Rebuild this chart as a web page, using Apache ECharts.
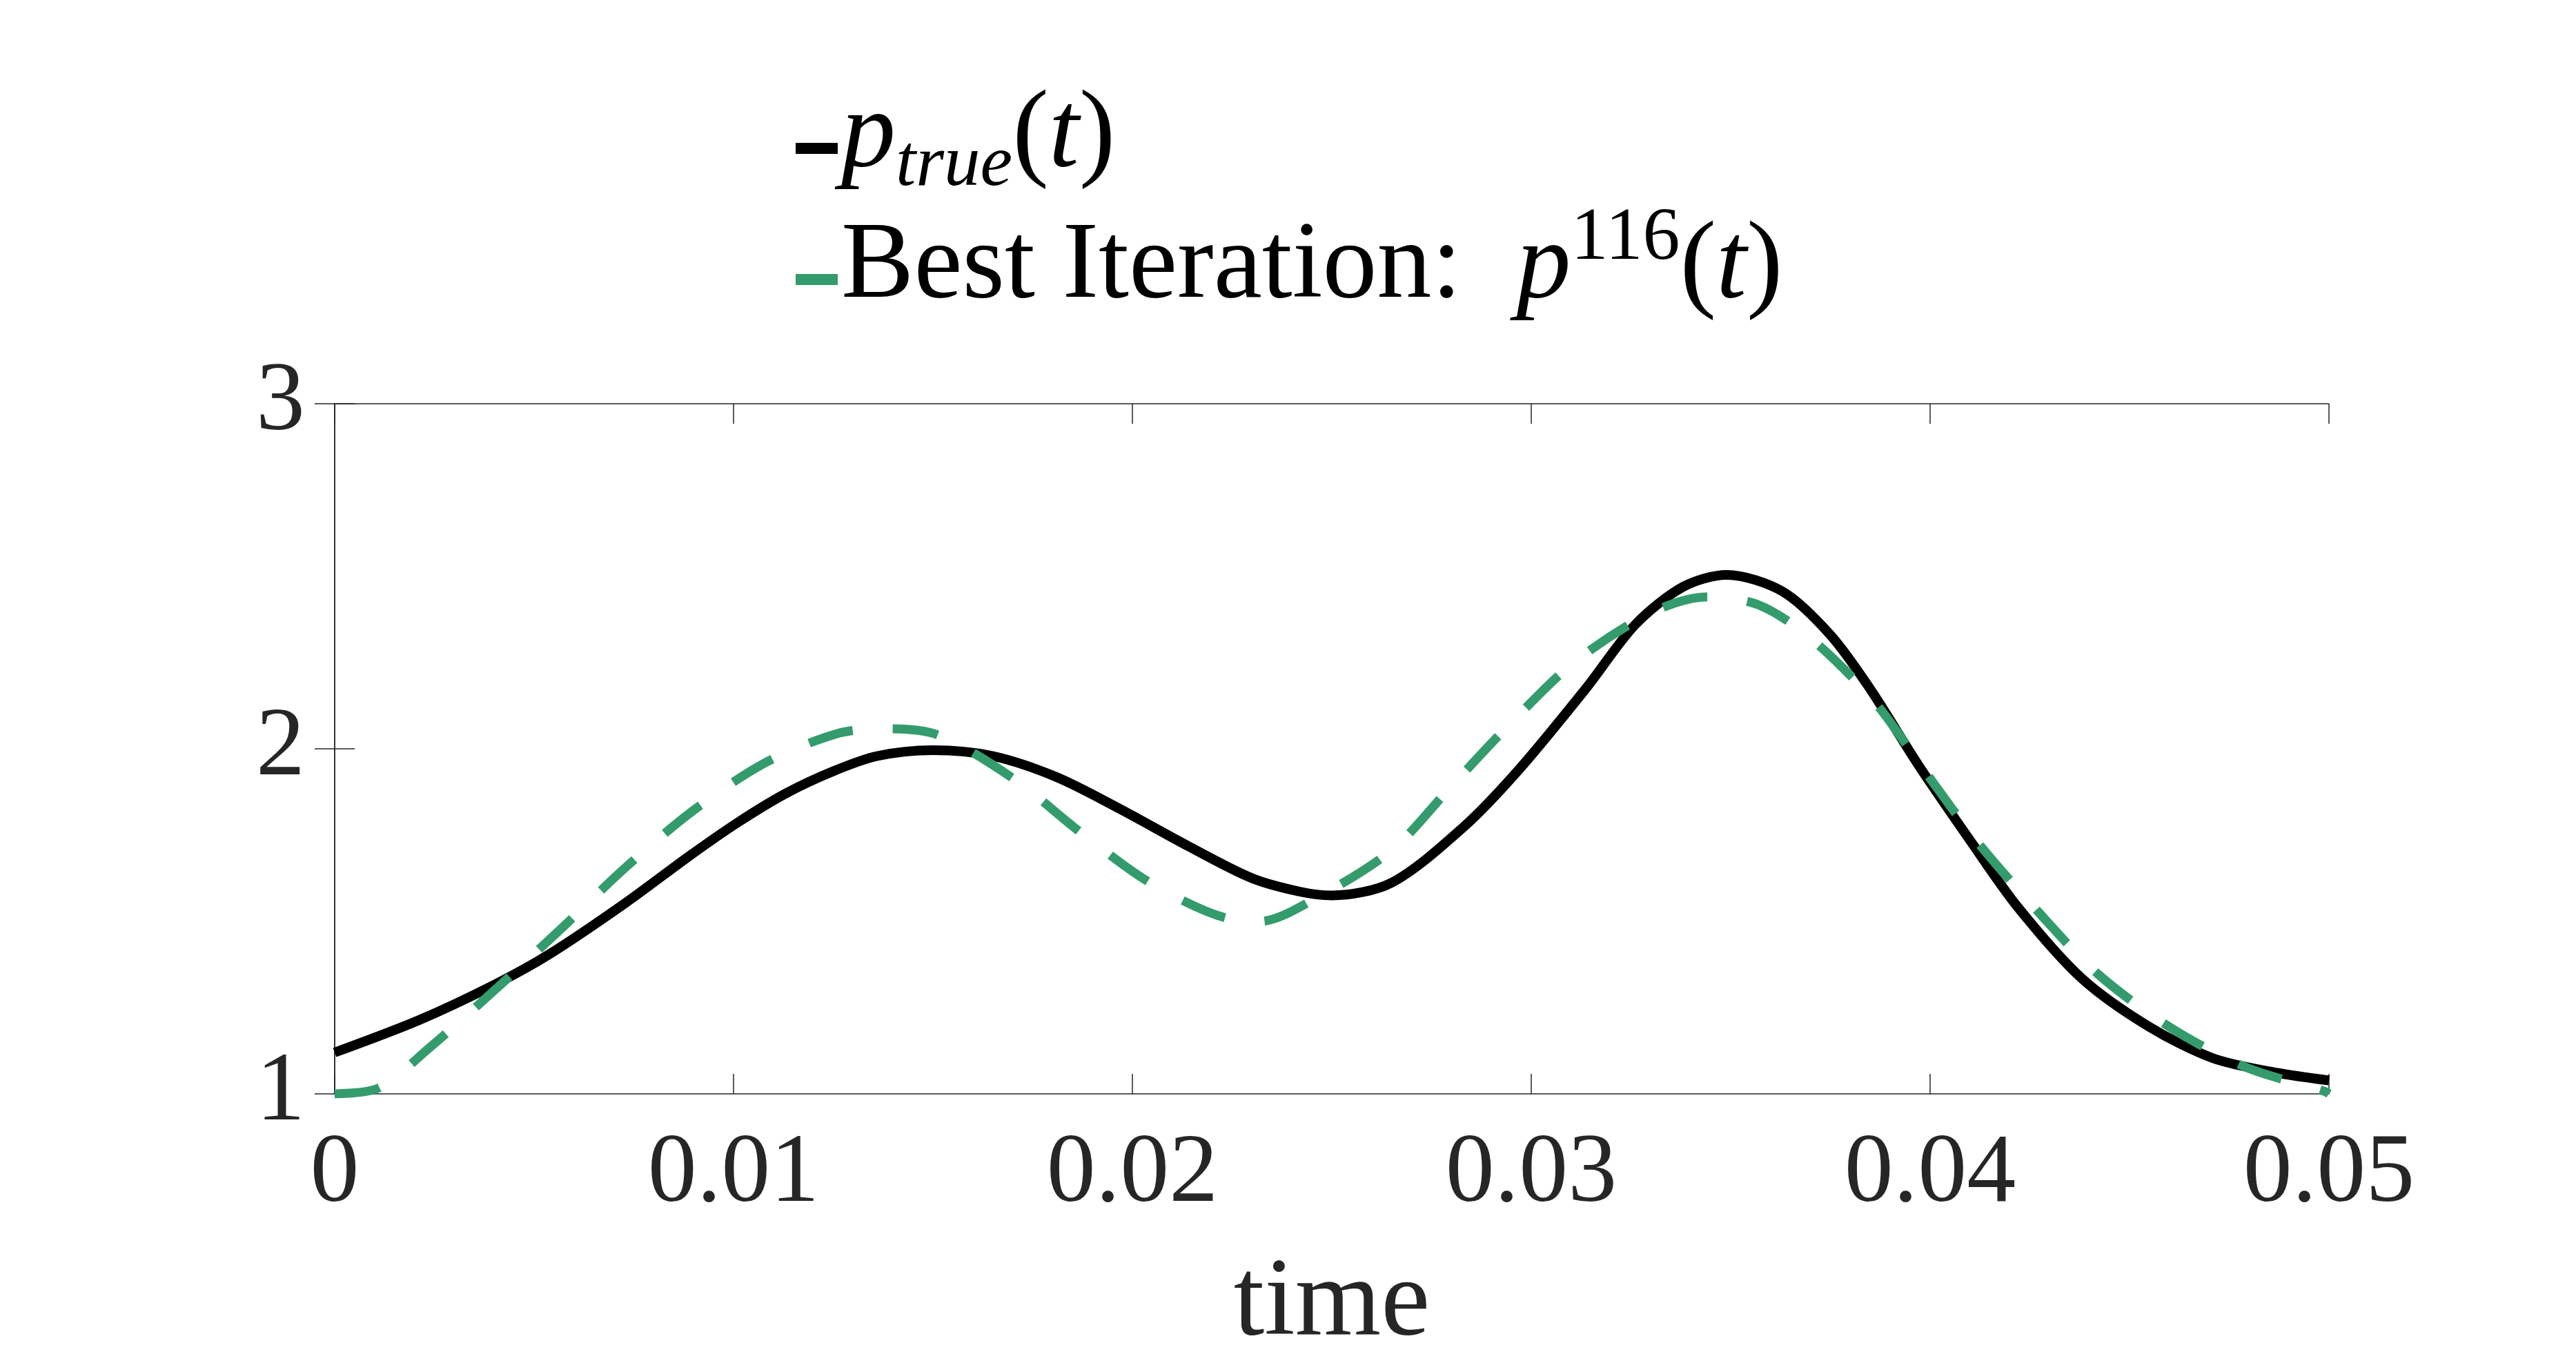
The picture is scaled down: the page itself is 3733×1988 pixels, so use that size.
<!DOCTYPE html>
<html>
<head>
<meta charset="utf-8">
<title>p_true vs best iteration</title>
<script src="https://cdn.jsdelivr.net/npm/echarts@6/dist/echarts.min.js"></script>
<style>
  html, body { margin: 0; padding: 0; background: #fff; }
  #chart { width: 3733px; height: 1988px; }
</style>
</head>
<body>
<div id="chart"></div>
<script>
  // p_true(t)
  const tTrue = [0, 0.0021, 0.0040, 0.0054, 0.0073, 0.0089, 0.0101, 0.0113, 0.0125, 0.0136,
    0.0150, 0.0165, 0.0181, 0.0197, 0.0214, 0.0230, 0.0242, 0.0250, 0.0265, 0.0283,
    0.0297, 0.0314, 0.0326, 0.0338, 0.0349, 0.0363, 0.0375, 0.0385, 0.0397, 0.0410,
    0.0422, 0.0438, 0.0455, 0.0471, 0.0487, 0.0500];
  const pTrue = [1.12, 1.213, 1.316, 1.406, 1.554, 1.690, 1.786, 1.870, 1.935, 1.979,
    1.996, 1.979, 1.918, 1.825, 1.718, 1.625, 1.586, 1.575, 1.612, 1.773,
    1.941, 2.179, 2.359, 2.469, 2.504, 2.456, 2.33, 2.173, 1.954, 1.735,
    1.541, 1.335, 1.194, 1.103, 1.061, 1.039];

  // best iteration p^116(t)
  const tBest = [0, 0.0011, 0.0024, 0.0041, 0.0057, 0.0073, 0.0090, 0.0108, 0.0126, 0.0137,
    0.0151, 0.0170, 0.0187, 0.0205, 0.0225, 0.0232, 0.0246, 0.0265, 0.0280, 0.0295,
    0.0311, 0.0330, 0.0344, 0.0357, 0.0370, 0.0386, 0.0399, 0.0412, 0.0427, 0.0442,
    0.0460, 0.0479, 0.0499, 0.0500];
  const pBest = [1.00, 1.017, 1.136, 1.310, 1.481, 1.657, 1.822, 1.960, 2.044, 2.058,
    2.041, 1.915, 1.758, 1.608, 1.505, 1.500, 1.567, 1.706, 1.892, 2.076,
    2.253, 2.394, 2.44, 2.417, 2.321, 2.137, 1.930, 1.728, 1.529, 1.348,
    1.194, 1.078, 1.007, 1.00];

  const xTickLabels = ['0', '0.01', '0.02', '0.03', '0.04', '0.05'];
  const yTickLabels = ['1', '2', '3'];

  const serif = 'Liberation Serif';
  const axisColor = '#262626';
  const green = '#349C6C';

  const pairs = (xs, ys) => xs.map((x, i) => [x, ys[i]]);

  const chart = echarts.init(document.getElementById('chart'));

  const mainSize = 158, rowH = 190;
  const rich = {
    rm: { fontFamily: serif, fontSize: mainSize, lineHeight: rowH, color: '#000' },
    it: { fontFamily: serif, fontSize: mainSize, lineHeight: rowH, fontStyle: 'italic', color: '#000' },
    sub: { fontFamily: serif, fontSize: 105, lineHeight: 106, fontStyle: 'italic', verticalAlign: 'bottom', color: '#000' },
    sup: { fontFamily: serif, fontSize: 108, lineHeight: 110, verticalAlign: 'top', color: '#000' }
  };
  // legend marker: a short bar sitting a bit below the text centre
  // (the leading M0 0 only widens the box so the bar ends up lower)
  const markerIcon = 'path://M0 0M0 34L61 34L61 50L0 50Z';

  // both axes are mirrored (box with ticks inside on all four sides)
  const boxAxis = (pos, isX) => ({
    type: 'value',
    position: pos,
    min: isX ? 0 : 1,
    max: isX ? 0.05 : 3,
    interval: isX ? 0.01 : 1,
    axisLine: { show: true, lineStyle: { color: axisColor, width: 1.5 } },
    axisTick: { show: true, inside: true, length: 29, lineStyle: { color: axisColor, width: 1.5 } },
    axisLabel: { show: false },
    splitLine: { show: false }
  });

  const xMain = boxAxis('bottom', true);
  xMain.name = 'time';
  xMain.nameLocation = 'middle';
  xMain.nameGap = 226;
  xMain.nameTextStyle = { fontFamily: serif, fontSize: 160, color: axisColor };
  xMain.axisLabel = {
    show: true, margin: 47, fontFamily: serif, fontSize: 142, color: axisColor,
    formatter: v => xTickLabels[Math.round(v / 0.01)]
  };

  const yMain = boxAxis('left', false);
  yMain.axisLabel = {
    show: true, margin: 43, fontFamily: serif, fontSize: 142, color: axisColor,
    formatter: v => yTickLabels[Math.round(v) - 1]
  };

  let option = {
    backgroundColor: '#fff',
    animation: false,
    grid: { left: 485, right: 358, top: 585, bottom: 403 },
    legend: {
      orient: 'vertical',
      left: 1153,
      top: 119,
      padding: 0,
      itemGap: 0,
      itemWidth: 61,
      itemHeight: 50,
      data: [
        { name: 'p_true', icon: markerIcon },
        { name: 'best', icon: markerIcon }
      ],
      formatter: function (name) {
        if (name === 'p_true') return '{it|p}{sub|true}{rm|(}{it|t}{rm|)}';
        return '{rm|Best Iteration:\u00a0 }{it|p}{sup|116}{rm|(}{it|t}{rm|)}';
      },
      textStyle: { fontFamily: serif, fontSize: mainSize, color: '#000', rich: rich }
    },
    xAxis: [xMain, boxAxis('top', true)],
    yAxis: [yMain, boxAxis('right', false)],
    series: [
      {
        name: 'p_true',
        type: 'line',
        data: pairs(tTrue, pTrue),
        showSymbol: false,
        smooth: 0.3,
        itemStyle: { color: '#000' },
        lineStyle: { color: '#000', width: 14 }
      },
      {
        name: 'best',
        type: 'line',
        data: pairs(tBest, pBest),
        showSymbol: false,
        smooth: 0.3,
        itemStyle: { color: green },
        lineStyle: { color: green, width: 13, type: [66, 58] }
      }
    ]
  };

  chart.setOption(option);
</script>
</body>
</html>
